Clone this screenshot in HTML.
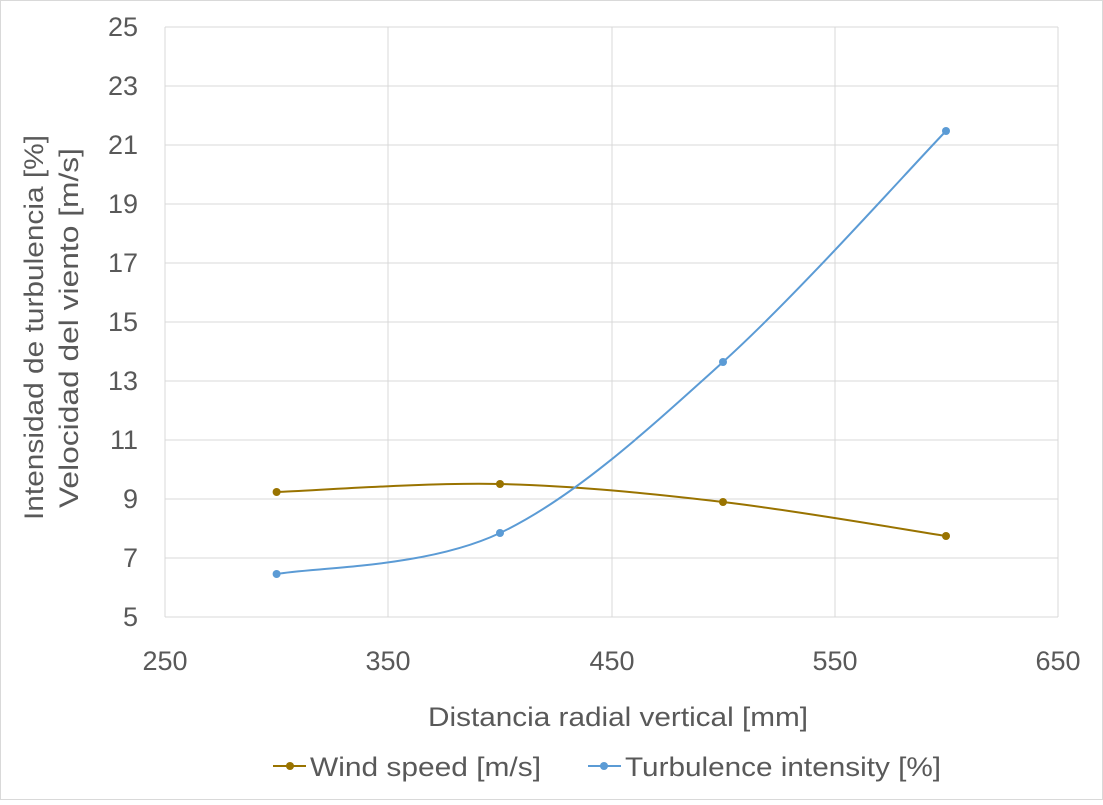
<!DOCTYPE html>
<html><head><meta charset="utf-8"><style>
body{margin:0;background:#fff}
svg text{font-family:"Liberation Sans",sans-serif;fill:#595959}
</style></head><body>
<svg width="1103" height="800" viewBox="0 0 1103 800" xmlns="http://www.w3.org/2000/svg">
<rect x="0.5" y="0.5" width="1102" height="799" fill="#fff" stroke="#d9d9d9"/>
<g stroke="#d9d9d9" stroke-width="1">
<line x1="165" y1="27" x2="1058" y2="27"/><line x1="165" y1="86" x2="1058" y2="86"/>
<line x1="165" y1="145" x2="1058" y2="145"/><line x1="165" y1="204" x2="1058" y2="204"/>
<line x1="165" y1="263" x2="1058" y2="263"/><line x1="165" y1="322" x2="1058" y2="322"/>
<line x1="165" y1="381" x2="1058" y2="381"/><line x1="165" y1="440" x2="1058" y2="440"/>
<line x1="165" y1="499" x2="1058" y2="499"/><line x1="165" y1="558" x2="1058" y2="558"/>
<line x1="165" y1="617" x2="1058" y2="617"/>
<line x1="165" y1="27" x2="165" y2="617"/><line x1="388" y1="27" x2="388" y2="617"/>
<line x1="612" y1="27" x2="612" y2="617"/><line x1="835" y1="27" x2="835" y2="617"/>
<line x1="1058" y1="27" x2="1058" y2="617"/>
</g>
<g font-size="27" text-anchor="end">
<text x="138" y="36">25</text><text x="138" y="95">23</text><text x="138" y="154">21</text>
<text x="138" y="213">19</text><text x="138" y="272">17</text><text x="138" y="331">15</text>
<text x="138" y="390">13</text><text x="138" y="449">11</text><text x="138" y="508">9</text>
<text x="138" y="567">7</text><text x="138" y="626">5</text>
</g>
<g font-size="27" text-anchor="middle">
<text x="165" y="670">250</text><text x="388" y="670">350</text><text x="612" y="670">450</text>
<text x="835" y="670">550</text><text x="1058" y="670">650</text>
</g>
<text x="428" y="726" font-size="27" textLength="380" lengthAdjust="spacingAndGlyphs">Distancia radial vertical [mm]</text>
<text transform="translate(43,520) rotate(-90)" font-size="27" textLength="385" lengthAdjust="spacingAndGlyphs">Intensidad de turbulencia [%]</text>
<text transform="translate(78,508) rotate(-90)" font-size="27" textLength="360" lengthAdjust="spacingAndGlyphs">Velocidad del viento [m/s]</text>
<path d="M276.6,492 C313.8,490.7 425.6,482.3 500,484 C574.4,485.7 648.7,493.3 723,502 C797.3,510.7 908.8,530.3 946,536" fill="none" stroke="#997300" stroke-width="2"/>
<path d="M276.6,574 C313.8,567.2 425.6,568.3 500,533 C574.4,497.7 648.7,429 723,362 C797.3,295 908.8,169.5 946,131" fill="none" stroke="#5b9bd5" stroke-width="2"/>
<g fill="#997300"><circle cx="276.6" cy="492" r="4"/><circle cx="500" cy="484" r="4"/><circle cx="723" cy="502" r="4"/><circle cx="946" cy="536" r="4"/></g>
<g fill="#5b9bd5"><circle cx="276.6" cy="574" r="4"/><circle cx="500" cy="533" r="4"/><circle cx="723" cy="362" r="4"/><circle cx="946" cy="131" r="4"/></g>
<line x1="273" y1="766" x2="306" y2="766" stroke="#997300" stroke-width="2"/><circle cx="290" cy="766" r="4" fill="#997300"/>
<text x="310" y="776" font-size="27" textLength="231" lengthAdjust="spacingAndGlyphs">Wind speed [m/s]</text>
<line x1="588" y1="766" x2="621" y2="766" stroke="#5b9bd5" stroke-width="2"/><circle cx="604" cy="766" r="4" fill="#5b9bd5"/>
<text x="625" y="776" font-size="27" textLength="316" lengthAdjust="spacingAndGlyphs">Turbulence intensity [%]</text>
</svg>
</body></html>
